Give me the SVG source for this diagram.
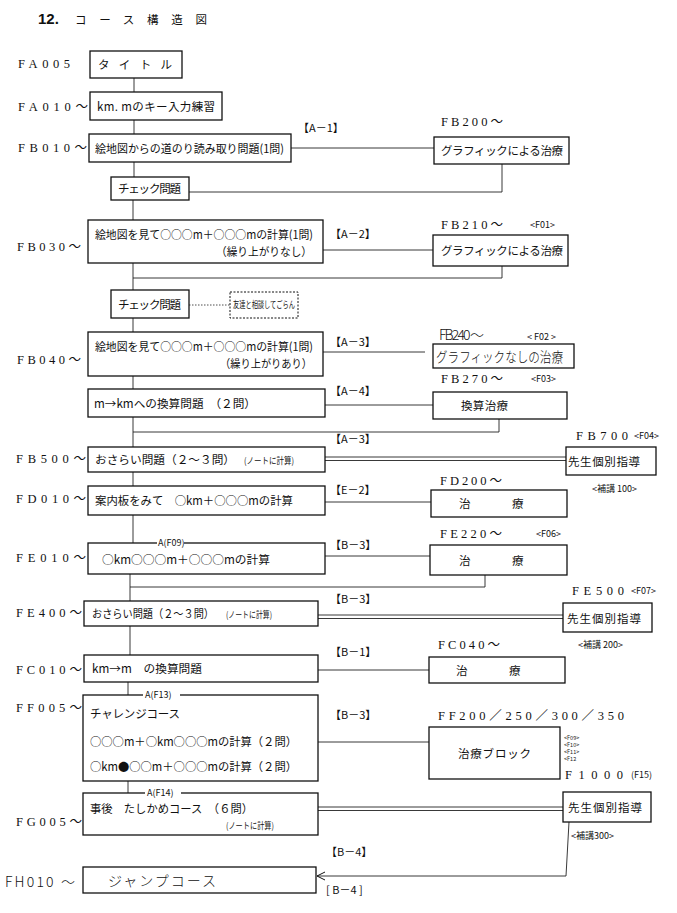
<svg xmlns="http://www.w3.org/2000/svg" width="677" height="913" viewBox="0 0 677 913">
<style>
.bx{fill:#fff;stroke:#111;stroke-width:1.3}
.dbx{fill:#fff;stroke:#111;stroke-width:1;stroke-dasharray:2 1.5}
.ln{fill:none;stroke:#222;stroke-width:0.9}
.dl{fill:none;stroke:#222;stroke-width:0.8;stroke-dasharray:1.5 1.5}
.t{font-family:"Noto Sans CJK JP","Noto Sans",sans-serif;font-size:11.5px;fill:#111}
.s{font-family:"Noto Sans CJK JP","Noto Sans",sans-serif;font-size:9px;fill:#111}
.xs{font-family:"Noto Sans CJK JP","Noto Sans",sans-serif;font-size:5.5px;fill:#222}
.lb{font-family:"Liberation Serif","Noto Sans CJK JP",serif;font-size:12.5px;fill:#111}
.hw{font-family:"Noto Sans CJK JP","Noto Sans",sans-serif;font-size:14px;font-weight:300;fill:#111}
.br{font-family:"Noto Sans CJK JP","Liberation Serif",serif;font-size:11px;fill:#111}
</style>
<defs>
<marker id="arr" markerWidth="10" markerHeight="10" refX="9" refY="5" orient="auto" markerUnits="userSpaceOnUse">
<path d="M1,1 L9,5 L1,9" fill="none" stroke="#111" stroke-width="1"/>
</marker>
</defs>
<rect width="677" height="913" fill="#fff"/>

<g id="title">
<text x="38" y="24" font-family="Liberation Sans,sans-serif" font-size="15" font-weight="bold" fill="#111">12.</text>
<text x="75" y="24" class="t" font-size="14" textLength="132" lengthAdjust="spacing">コース構造図</text>
</g>

<g id="labels">
<text class="lb" x="18" y="68" textLength="52" lengthAdjust="spacing">FA005</text>
<text class="lb" x="18" y="111" textLength="70" lengthAdjust="spacing">FA010～</text>
<text class="lb" x="18" y="152" textLength="69" lengthAdjust="spacing">FB010～</text>
<text class="lb" x="17" y="251" textLength="64" lengthAdjust="spacing">FB030～</text>
<text class="lb" x="17" y="364" textLength="64" lengthAdjust="spacing">FB040～</text>
<text class="lb" x="16" y="463" textLength="70" lengthAdjust="spacing">FB500～</text>
<text class="lb" x="16" y="503" textLength="70" lengthAdjust="spacing">FD010～</text>
<text class="lb" x="16" y="562" textLength="70" lengthAdjust="spacing">FE010～</text>
<text class="lb" x="16" y="617" textLength="66" lengthAdjust="spacing">FE400～</text>
<text class="lb" x="16" y="674" textLength="66" lengthAdjust="spacing">FC010～</text>
<text class="lb" x="16" y="712" textLength="66" lengthAdjust="spacing">FF005～</text>
<text class="lb" x="16" y="826" textLength="66" lengthAdjust="spacing">FG005～</text>
<text class="hw" x="5" y="887" font-size="13" textLength="70" lengthAdjust="spacing">FH010 ～</text>
</g>

<g id="connectors">
<line class="ln" x1="134" y1="78" x2="134" y2="92"/>
<line class="ln" x1="134" y1="120" x2="134" y2="134"/>
<line class="ln" x1="134" y1="162" x2="134" y2="177"/>
<line class="ln" x1="133" y1="200" x2="133" y2="220"/>
<line class="ln" x1="291" y1="148" x2="434" y2="148"/>
<polyline class="ln" points="189,192 502,192 502,164"/>
<line class="ln" x1="323" y1="250" x2="433" y2="250"/>
<polyline class="ln" points="502,266 502,278 133,278"/>
<line class="ln" x1="133" y1="263" x2="133" y2="290"/>
<line class="dl" x1="189" y1="305" x2="230" y2="305"/>
<line class="ln" x1="133" y1="318" x2="133" y2="332"/>
<line class="ln" x1="323" y1="352" x2="425" y2="352"/>
<line class="ln" x1="133" y1="376" x2="133" y2="389"/>
<line class="ln" x1="325" y1="405" x2="433" y2="405"/>
<polyline class="ln" points="499,419 499,432 133,432"/>
<line class="ln" x1="133" y1="417" x2="133" y2="447"/>
<line class="ln" x1="325" y1="457" x2="566" y2="457"/>
<line class="ln" x1="325" y1="460.5" x2="566" y2="460.5"/>
<line class="ln" x1="133" y1="472" x2="133" y2="486"/>
<line class="ln" x1="325" y1="502" x2="431" y2="502"/>
<line class="ln" x1="133" y1="515" x2="133" y2="543"/>
<line class="ln" x1="325" y1="556" x2="430" y2="556"/>
<polyline class="ln" points="485,575 485,587 130,587"/>
<line class="ln" x1="130" y1="574" x2="130" y2="601"/>
<line class="ln" x1="318" y1="615" x2="563" y2="615"/>
<line class="ln" x1="318" y1="618.5" x2="563" y2="618.5"/>
<line class="ln" x1="130" y1="626" x2="130" y2="655"/>
<line class="ln" x1="318" y1="670" x2="429" y2="670"/>
<line class="ln" x1="128" y1="682" x2="128" y2="695"/>
<line class="ln" x1="318" y1="742" x2="429" y2="742"/>
<line class="ln" x1="128" y1="781" x2="128" y2="793"/>
<line class="ln" x1="318" y1="807" x2="563" y2="807"/>
<line class="ln" x1="318" y1="810.5" x2="563" y2="810.5"/>
<polyline class="ln" points="569,822 566,876 317,876" stroke-width="1" marker-end="url(#arr)"/>
</g>

<g id="edge-labels">
<text class="br" x="298" y="132">【A－1】</text>
<text class="br" x="330" y="238">【A－2】</text>
<text class="br" x="330" y="346">【A－3】</text>
<text class="br" x="330" y="395">【A－4】</text>
<text class="br" x="330" y="443">【A－3】</text>
<text class="br" x="330" y="494">【E－2】</text>
<text class="br" x="330" y="549">【B－3】</text>
<text class="br" x="330" y="603">【B－3】</text>
<text class="br" x="330" y="656">【B－1】</text>
<text class="br" x="330" y="719">【B－3】</text>
<text class="br" x="326" y="856">【B－4】</text>
<text class="br" x="326" y="894">[ B－4 ]</text>
</g>

<g id="FA005"><rect class="bx" x="90" y="51" width="92" height="27"/><text class="t" x="98" y="69" textLength="74" lengthAdjust="spacing">タイトル</text></g>
<g id="FA010"><rect class="bx" x="90" y="92" width="132" height="28"/><text class="t" x="97" y="111" textLength="118" lengthAdjust="spacing">km. mのキー入力練習</text></g>
<g id="FB010"><rect class="bx" x="89" y="134" width="202" height="28"/><text class="t" x="95" y="153" textLength="189" lengthAdjust="spacingAndGlyphs">絵地図からの道のり読み取り問題(1問)</text></g>
<g id="check1"><rect class="bx" x="111" y="177" width="78" height="23"/><text class="t" x="118" y="193" textLength="63" lengthAdjust="spacing">チェック問題</text></g>
<g id="FB030"><rect class="bx" x="88" y="220" width="235" height="43"/>
<text class="t" x="95" y="239" textLength="218" lengthAdjust="spacingAndGlyphs">絵地図を見て○○○m＋○○○mの計算(1問)</text>
<text class="t" x="216" y="256" textLength="96" lengthAdjust="spacingAndGlyphs">（繰り上がりなし）</text></g>
<g id="check2"><rect class="bx" x="111" y="290" width="78" height="28"/><text class="t" x="118" y="309" textLength="63" lengthAdjust="spacing">チェック問題</text></g>
<g id="hint"><rect class="dbx" x="230" y="292" width="68" height="26"/><text class="s" x="233" y="308" font-size="8" textLength="62" lengthAdjust="spacingAndGlyphs">友達と相談してごらん</text></g>
<g id="FB040"><rect class="bx" x="88" y="332" width="235" height="44"/>
<text class="t" x="95" y="351" textLength="218" lengthAdjust="spacingAndGlyphs">絵地図を見て○○○m＋○○○mの計算(1問)</text>
<text class="t" x="220" y="368" textLength="92" lengthAdjust="spacingAndGlyphs">（繰り上がりあり）</text></g>
<g id="mkm"><rect class="bx" x="88" y="389" width="237" height="28"/><text class="t" x="94" y="408" textLength="162" lengthAdjust="spacingAndGlyphs">m→kmへの換算問題　（２問）</text></g>
<g id="FB500"><rect class="bx" x="88" y="447" width="237" height="25"/><text class="t" x="95" y="464" textLength="140" lengthAdjust="spacingAndGlyphs">おさらい問題（２～３問）</text><text class="s" x="244" y="464" textLength="50" lengthAdjust="spacingAndGlyphs">(ノートに計算)</text></g>
<g id="FD010"><rect class="bx" x="88" y="486" width="237" height="29"/><text class="t" x="95" y="505" textLength="198" lengthAdjust="spacingAndGlyphs">案内板をみて　○km＋○○○mの計算</text></g>
<g id="FE010"><rect class="bx" x="88" y="543" width="237" height="31"/>
<rect x="157" y="537" width="27" height="11" fill="#fff"/><text class="s" x="158" y="546" font-family="Liberation Serif,serif" font-size="10">A(F09)</text>
<text class="t" x="102" y="564" textLength="168" lengthAdjust="spacingAndGlyphs">○km○○○m＋○○○mの計算</text></g>
<g id="FE400"><rect class="bx" x="84" y="601" width="234" height="25"/><text class="t" x="92" y="618" textLength="122" lengthAdjust="spacingAndGlyphs">おさらい問題（２～３問）</text><text class="s" x="226" y="618" textLength="46" lengthAdjust="spacingAndGlyphs">(ノートに計算)</text></g>
<g id="FC010"><rect class="bx" x="84" y="655" width="234" height="27"/><text class="t" x="92" y="673" textLength="110" lengthAdjust="spacingAndGlyphs">km→m　の換算問題</text></g>
<g id="FF005"><rect class="bx" x="83" y="695" width="235" height="86"/>
<rect x="143" y="689" width="37" height="11" fill="#fff"/><text class="s" x="145" y="698" font-family="Liberation Serif,serif" font-size="10">A(F13)</text>
<text class="t" x="90" y="718" textLength="90" lengthAdjust="spacing">チャレンジコース</text>
<text class="t" x="90" y="746" textLength="207" lengthAdjust="spacingAndGlyphs">○○○m＋○km○○○mの計算（２問）</text>
<text class="t" x="90" y="771" textLength="207" lengthAdjust="spacingAndGlyphs">○km●○○m＋○○○mの計算（２問）</text></g>
<g id="FG005"><rect class="bx" x="83" y="793" width="235" height="42"/>
<rect x="145" y="787" width="36" height="11" fill="#fff"/><text class="s" x="147" y="796" font-family="Liberation Serif,serif" font-size="10">A(F14)</text>
<text class="t" x="90" y="813" textLength="163" lengthAdjust="spacingAndGlyphs">事後　たしかめコース　（６問）</text>
<text class="s" x="226" y="829" textLength="48" lengthAdjust="spacingAndGlyphs">(ノートに計算)</text></g>
<g id="FH010"><rect class="bx" x="83" y="867" width="233" height="26"/><text class="hw" x="108" y="886" textLength="108" lengthAdjust="spacing">ジャンプコース</text></g>

<g id="FB200"><text class="lb" x="441" y="126" textLength="62" lengthAdjust="spacing">FB200～</text>
<rect class="bx" x="434" y="137" width="135" height="27"/><text class="t" x="441" y="155" textLength="122" lengthAdjust="spacing">グラフィックによる治療</text></g>
<g id="FB210"><text class="lb" x="441" y="229" textLength="62" lengthAdjust="spacing">FB210～</text><text class="s" x="530" y="228">&lt;F01&gt;</text>
<rect class="bx" x="433" y="235" width="135" height="31"/><text class="t" x="441" y="255" textLength="122" lengthAdjust="spacing">グラフィックによる治療</text></g>
<g id="FB240"><text class="hw" x="439" y="340" font-size="11" textLength="45" lengthAdjust="spacing">FB240 ～</text><text class="s" x="527" y="340" font-size="10">&lt; F02 &gt;</text>
<rect class="bx" x="433" y="344" width="141" height="24"/><text class="hw" x="436" y="362" font-size="14.5" textLength="127" lengthAdjust="spacingAndGlyphs">グラフィックなしの治療</text></g>
<g id="FB270"><text class="lb" x="441" y="383" textLength="62" lengthAdjust="spacing">FB270～</text><text class="s" x="531" y="382">&lt;F03&gt;</text>
<rect class="bx" x="433" y="392" width="134" height="27"/><text class="t" x="461" y="410" textLength="47" lengthAdjust="spacing">換算治療</text></g>
<g id="FB700"><text class="lb" x="576" y="440" textLength="52" lengthAdjust="spacing">FB700</text><text class="s" x="634" y="439">&lt;F04&gt;</text>
<rect class="bx" x="566" y="447" width="90" height="28"/><text class="t" x="568" y="466" textLength="72" lengthAdjust="spacing">先生個別指導</text>
<text class="s" x="592" y="492">&lt;補講 100&gt;</text></g>
<g id="FD200"><text class="lb" x="440" y="485" textLength="62" lengthAdjust="spacing">FD200～</text>
<rect class="bx" x="431" y="490" width="136" height="27"/><text class="t" x="459" y="508">治</text><text class="t" x="512" y="508">療</text></g>
<g id="FE220"><text class="lb" x="440" y="538" textLength="62" lengthAdjust="spacing">FE220～</text><text class="s" x="536" y="537">&lt;F06&gt;</text>
<rect class="bx" x="430" y="545" width="137" height="30"/><text class="t" x="459" y="565">治</text><text class="t" x="512" y="565">療</text></g>
<g id="FE500"><text class="lb" x="572" y="595" textLength="52" lengthAdjust="spacing">FE500</text><text class="s" x="631" y="594">&lt;F07&gt;</text>
<rect class="bx" x="563" y="603" width="89" height="29"/><text class="t" x="567" y="623" textLength="74" lengthAdjust="spacing">先生個別指導</text>
<text class="s" x="578" y="648">&lt;補講 200&gt;</text></g>
<g id="FC040"><text class="lb" x="438" y="649" textLength="62" lengthAdjust="spacing">FC040～</text>
<rect class="bx" x="429" y="657" width="136" height="26"/><text class="t" x="456" y="675">治</text><text class="t" x="509" y="675">療</text></g>
<g id="FF200"><text class="lb" x="438" y="720" textLength="186" lengthAdjust="spacing">FF200／250／300／350</text>
<rect class="bx" x="429" y="727" width="131" height="52"/><text class="t" x="458" y="758" textLength="73" lengthAdjust="spacing">治療ブロック</text>
<text class="xs" x="564" y="740">&lt;F09&gt;</text><text class="xs" x="564" y="747">&lt;F10&gt;</text><text class="xs" x="564" y="754">&lt;F11&gt;</text><text class="xs" x="564" y="761">&lt;F12</text></g>
<g id="F1000"><text class="lb" x="565" y="779" textLength="58" lengthAdjust="spacing">F1000</text><text class="s" x="631" y="778" font-size="10">(F15)</text>
<rect class="bx" x="563" y="792" width="88" height="30"/><text class="t" x="568" y="812" textLength="74" lengthAdjust="spacing">先生個別指導</text>
<text class="s" x="571" y="839">&lt;補講300&gt;</text></g>
</svg>
